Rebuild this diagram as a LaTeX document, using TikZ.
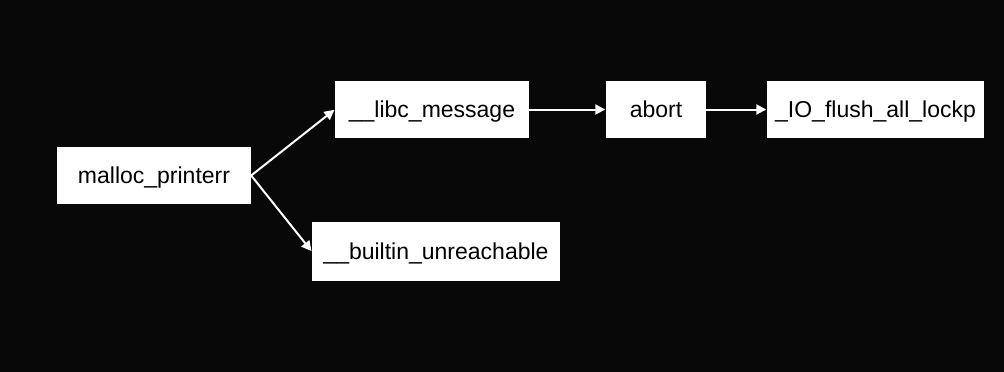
\documentclass[tikz,border=0pt]{standalone}
\usepackage{fontspec}
\setmainfont{Liberation Sans}
\usetikzlibrary{arrows.meta}
\definecolor{bg}{HTML}{080808}
\begin{document}
\begin{tikzpicture}[x=1pt,y=-1pt,
  fn/.style={fill=white, draw=none, text=black, inner sep=0pt, font=\fontsize{23}{26}\selectfont, text height=17pt, text depth=2pt, minimum height=57pt},
  conn/.style={draw=white, line width=2pt, -{Triangle[length=10pt,width=10pt]}, shorten >=0.5pt}]
\fill[bg] (0,0) rectangle (1004,372);
\useasboundingbox (0,0) rectangle (1004,372);
\node[fn, minimum width=194pt] (mp) at (154,175.5) {malloc\_printerr};
\node[fn, minimum width=194pt] (lm) at (432,109.5) {\_\_libc\_message};
\node[fn, minimum width=100pt] (ab) at (656,109.5) {abort};
\node[fn, minimum width=217pt] (io) at (875.5,109.5) {\_IO\_flush\_all\_lockp};
\node[fn, minimum width=248pt, minimum height=59pt] (bu) at (436,251.5) {\_\_builtin\_unreachable};
\draw[conn] (mp.east) -- (lm.west);
\draw[conn] (mp.east) -- (bu.west);
\draw[conn] (lm.east) -- (ab.west);
\draw[conn] (ab.east) -- (io.west);
\end{tikzpicture}
\end{document}
